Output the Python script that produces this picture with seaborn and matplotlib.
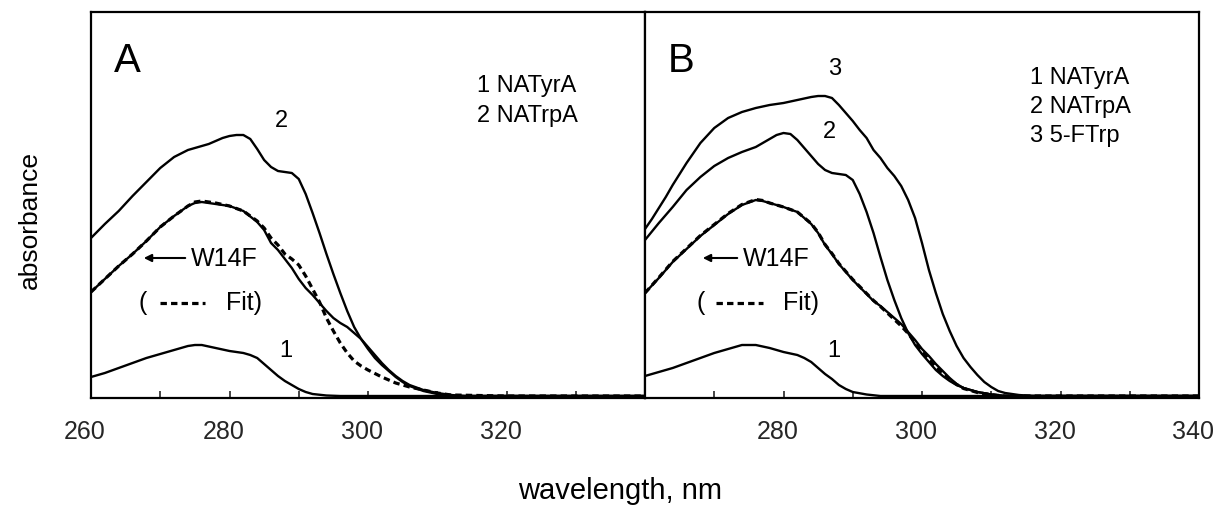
import matplotlib
matplotlib.use("Agg")
import matplotlib.pyplot as plt
from matplotlib import transforms
from matplotlib.lines import Line2D
import seaborn as sns

# ---------------- data (absorbance, arbitrary units) ----------------
# Panel A
wl_a_trp = [260, 262, 264, 266, 268, 270, 272, 274, 276, 277, 278, 279, 280, 281, 282, 283, 284,
            285, 286, 287, 288, 289, 290, 291, 292, 293, 294, 295, 296, 297, 298, 299, 300, 301,
            302, 303, 304, 305, 306, 308, 310, 312, 320, 340]
abs_a_trp = [0.632, 0.688, 0.740, 0.800, 0.856, 0.912, 0.956, 0.984, 1.000, 1.008, 1.020, 1.032,
             1.040, 1.044, 1.044, 1.028, 0.988, 0.944, 0.916, 0.900, 0.896, 0.892, 0.868, 0.808,
             0.732, 0.652, 0.568, 0.488, 0.412, 0.340, 0.276, 0.228, 0.188, 0.152, 0.124, 0.100,
             0.076, 0.056, 0.040, 0.020, 0.008, 0.0, 0.0, 0.0]

wl_a_w14f = [260, 262, 264, 266, 268, 270, 272, 274, 275, 276, 278, 280, 282, 284, 285, 286, 287,
             288, 289, 290, 291, 292, 293, 294, 295, 296, 297, 298, 299, 300, 301, 302, 303, 304,
             305, 306, 308, 310, 312, 314, 320, 340]
abs_a_w14f = [0.416, 0.468, 0.520, 0.568, 0.620, 0.676, 0.720, 0.760, 0.772, 0.776, 0.768, 0.760,
              0.740, 0.696, 0.664, 0.612, 0.584, 0.548, 0.512, 0.468, 0.432, 0.404, 0.372, 0.340,
              0.312, 0.292, 0.276, 0.252, 0.228, 0.196, 0.164, 0.132, 0.104, 0.080, 0.060, 0.044,
              0.024, 0.012, 0.004, 0.0, 0.0, 0.0]

wl_a_fit = [260, 262, 264, 266, 268, 270, 272, 274, 275, 276, 278, 280, 282, 284, 285, 286, 287,
            288, 289, 290, 291, 292, 293, 294, 295, 296, 297, 298, 299, 300, 302, 304, 306, 308,
            310, 312, 320, 330, 340]
abs_a_fit = [0.416, 0.468, 0.520, 0.568, 0.620, 0.676, 0.720, 0.760, 0.776, 0.780, 0.772, 0.760,
             0.740, 0.700, 0.672, 0.632, 0.604, 0.568, 0.548, 0.524, 0.480, 0.428, 0.376, 0.312,
             0.260, 0.212, 0.172, 0.140, 0.120, 0.104, 0.076, 0.052, 0.036, 0.024, 0.012, 0.004,
             0.0, 0.0, 0.0]

wl_a_tyr = [260, 262, 264, 266, 268, 270, 272, 274, 275, 276, 278, 280, 282, 283, 284, 285, 286,
            287, 288, 289, 290, 291, 292, 294, 296, 320, 340]
abs_a_tyr = [0.076, 0.092, 0.112, 0.132, 0.152, 0.168, 0.184, 0.200, 0.204, 0.204, 0.192, 0.180,
             0.172, 0.164, 0.152, 0.128, 0.104, 0.080, 0.060, 0.044, 0.028, 0.016, 0.008, 0.002,
             0.0, 0.0, 0.0]

# Panel B
wl_b_ftrp = [260, 261, 262, 263, 264, 266, 268, 270, 272, 274, 276, 278, 280, 282, 284, 285, 286,
             287, 288, 289, 290, 291, 292, 293, 294, 295, 296, 297, 298, 299, 300, 301, 302, 303,
             304, 305, 306, 307, 308, 309, 310, 311, 312, 314, 316, 320, 340]
abs_b_ftrp = [0.668, 0.708, 0.752, 0.796, 0.844, 0.932, 1.012, 1.072, 1.112, 1.136, 1.152, 1.164,
              1.172, 1.184, 1.196, 1.200, 1.200, 1.192, 1.164, 1.132, 1.100, 1.064, 1.032, 0.984,
              0.952, 0.912, 0.880, 0.840, 0.784, 0.712, 0.612, 0.504, 0.412, 0.328, 0.260, 0.200,
              0.152, 0.116, 0.084, 0.056, 0.036, 0.020, 0.012, 0.004, 0.0, 0.0, 0.0]

wl_b_trp = [260, 262, 264, 266, 268, 270, 272, 274, 276, 277, 278, 279, 280, 281, 282, 283, 284,
            285, 286, 287, 288, 289, 290, 291, 292, 293, 294, 295, 296, 297, 298, 299, 300, 301,
            302, 303, 304, 305, 306, 308, 310, 312, 320, 340]
abs_b_trp = [0.624, 0.692, 0.756, 0.824, 0.876, 0.920, 0.952, 0.976, 0.996, 1.012, 1.028, 1.044,
             1.052, 1.048, 1.024, 0.992, 0.960, 0.928, 0.904, 0.892, 0.888, 0.884, 0.864, 0.808,
             0.736, 0.652, 0.556, 0.464, 0.384, 0.312, 0.252, 0.204, 0.168, 0.136, 0.104, 0.080,
             0.060, 0.044, 0.032, 0.016, 0.006, 0.0, 0.0, 0.0]

wl_b_w14f = [260, 262, 264, 266, 268, 270, 272, 274, 276, 277, 278, 280, 282, 284, 285, 286, 287,
             288, 289, 290, 291, 292, 293, 294, 295, 296, 297, 298, 299, 300, 301, 302, 303, 304,
             305, 306, 308, 310, 312, 320, 340]
abs_b_w14f = [0.412, 0.472, 0.536, 0.588, 0.640, 0.684, 0.728, 0.764, 0.784, 0.780, 0.772, 0.756,
              0.736, 0.688, 0.652, 0.604, 0.568, 0.528, 0.496, 0.464, 0.436, 0.408, 0.380, 0.360,
              0.336, 0.312, 0.288, 0.256, 0.224, 0.188, 0.160, 0.128, 0.100, 0.072, 0.048, 0.032,
              0.016, 0.006, 0.0, 0.0, 0.0]

wl_b_fit = [260, 262, 264, 266, 268, 270, 272, 274, 276, 277, 278, 280, 282, 284, 285, 286, 287,
            288, 289, 290, 291, 292, 293, 294, 295, 296, 297, 298, 299, 300, 301, 302, 303, 304,
            305, 306, 308, 310, 312, 320, 330, 340]
abs_b_fit = [0.412, 0.474, 0.538, 0.590, 0.642, 0.686, 0.730, 0.766, 0.786, 0.782, 0.772, 0.756,
             0.736, 0.690, 0.654, 0.606, 0.570, 0.530, 0.498, 0.466, 0.438, 0.410, 0.382, 0.358,
             0.332, 0.306, 0.280, 0.250, 0.214, 0.176, 0.146, 0.116, 0.090, 0.066, 0.046, 0.030,
             0.014, 0.005, 0.0, 0.0, 0.0, 0.0]

wl_b_tyr = [260, 262, 264, 266, 268, 270, 272, 274, 276, 278, 280, 282, 283, 284, 285, 286, 287,
            288, 289, 290, 292, 294, 320, 340]
abs_b_tyr = [0.080, 0.096, 0.112, 0.132, 0.152, 0.172, 0.188, 0.204, 0.204, 0.192, 0.176, 0.164,
             0.152, 0.136, 0.112, 0.088, 0.068, 0.044, 0.028, 0.016, 0.006, 0.0, 0.0, 0.0]

tick_positions = [260, 270, 280, 290, 300, 310, 320, 330, 340]
tick_labels_a = ["260", "", "280", "", "300", "", "320", "", ""]
tick_labels_b = ["", "", "280", "", "300", "", "320", "", "340"]

# ---------------- style ----------------
sns.set_style("white")
plt.rcParams["font.family"] = ["Liberation Sans", "DejaVu Sans"]

W, H = 1218, 511
fig = plt.figure(figsize=(W / 100, H / 100), dpi=100)


def fx(px):
    return px / W


def fy(py):
    return 1 - py / H


axA = fig.add_axes([fx(91), fy(398), fx(645) - fx(91), fy(12) - fy(398)])
axB = fig.add_axes([fx(645), fy(398), fx(1199) - fx(645), fy(12) - fy(398)])

DASH = (0, (2.0, 1.3))
solid_kw = dict(color="black", lw=1.7, estimator=None, legend=False)

sns.lineplot(x=wl_a_trp, y=abs_a_trp, ax=axA, **solid_kw)
sns.lineplot(x=wl_a_w14f, y=abs_a_w14f, ax=axA, **solid_kw)
sns.lineplot(x=wl_a_tyr, y=abs_a_tyr, ax=axA, **solid_kw)
sns.lineplot(x=wl_a_fit, y=abs_a_fit, ax=axA, color="black", lw=2.3, linestyle=DASH,
             estimator=None, legend=False)

sns.lineplot(x=wl_b_ftrp, y=abs_b_ftrp, ax=axB, **solid_kw)
sns.lineplot(x=wl_b_trp, y=abs_b_trp, ax=axB, **solid_kw)
sns.lineplot(x=wl_b_w14f, y=abs_b_w14f, ax=axB, **solid_kw)
sns.lineplot(x=wl_b_tyr, y=abs_b_tyr, ax=axB, **solid_kw)
sns.lineplot(x=wl_b_fit, y=abs_b_fit, ax=axB, color="black", lw=2.3, linestyle=DASH,
             estimator=None, legend=False)

shift = transforms.ScaledTranslation(-0.06, 0, fig.dpi_scale_trans)
for ax, labels in ((axA, tick_labels_a), (axB, tick_labels_b)):
    ax.set_xlim(260, 340)
    ax.set_ylim(-0.008, 1.536)
    ax.set_xticks(tick_positions)
    ax.set_xticklabels(labels, fontsize=18)
    ax.set_yticks([])
    ax.set_xlabel("")
    ax.set_ylabel("")
    ax.tick_params(axis="x", direction="in", length=5, width=1.2, pad=16, bottom=True)
    for lab in ax.get_xticklabels():
        lab.set_transform(lab.get_transform() + shift)
    for sp in ax.spines.values():
        sp.set_visible(True)
        sp.set_color("black")
        sp.set_linewidth(1.6)


def ftext(px, py, s, size=17, ha="left", va="baseline", **kw):
    fig.text(fx(px), fy(py), s, fontsize=size, ha=ha, va=va, color="black", **kw)


# panel letters
ftext(114, 72, "A", size=29)
ftext(668, 72, "B", size=29)

# curve numbers
ftext(281, 121, "2", ha="center", va="center")
ftext(286, 351, "1", ha="center", va="center")
ftext(835, 69, "3", ha="center", va="center")
ftext(829, 132, "2", ha="center", va="center")
ftext(834, 351, "1", ha="center", va="center")

# sample keys
ftext(477, 92, "1 NATyrA")
ftext(477, 122, "2 NATrpA")
ftext(1030, 84, "1 NATyrA")
ftext(1030, 113, "2 NATrpA")
ftext(1030, 142, "3 5-FTrp")

# W14F arrow and fit key in each panel
for x_arrow_tail, x_arrow_head, x_text, x_paren, x_d0, x_d1, x_fit in (
        (188, 141, 191, 138, 160, 205, 226),
        (740, 700, 743, 696, 716, 763, 783)):
    fig.add_artist(matplotlib.patches.FancyArrowPatch(
        (fx(x_arrow_tail), fy(258)), (fx(x_arrow_head), fy(258)),
        transform=fig.transFigure, arrowstyle="-|>", mutation_scale=11,
        lw=1.5, color="black"))
    ftext(x_text, 259, "W14F", size=18, va="center")
    ftext(x_paren, 303, "(", size=18, va="center")
    fig.add_artist(Line2D([fx(x_d0), fx(x_d1)], [fy(303), fy(303)],
                          transform=fig.transFigure, color="black", lw=2.3, linestyle=DASH))
    ftext(x_fit, 303, "Fit)", size=18, va="center")

# axis titles
ftext(30, 220, "absorbance", size=19, ha="center", va="center", rotation=90)
ftext(620, 491, "wavelength, nm", size=21, ha="center", va="center")

fig.savefig("out.png", dpi=100, facecolor="white")
